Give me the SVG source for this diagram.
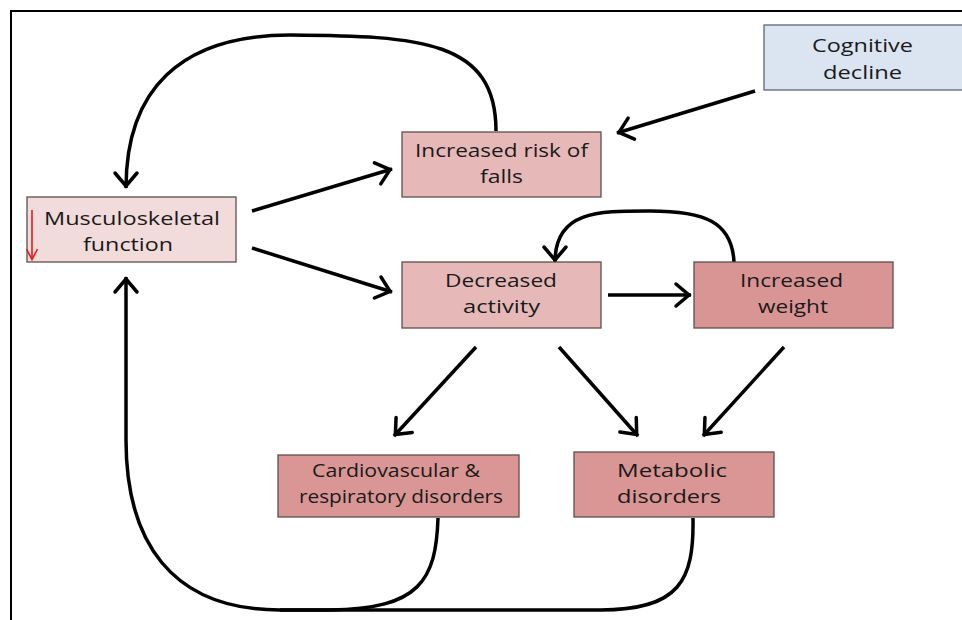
<svg xmlns="http://www.w3.org/2000/svg" width="962" height="620" viewBox="0 0 962 620">
<style>
.box{stroke:#5f4f4f;stroke-width:1.3}
.lbl{font-family:"Open Sans","Liberation Sans",sans-serif;font-size:19px;fill:#1a1a1a}
.con{fill:none;stroke:#000;stroke-width:3.5;marker-end:url(#ah)}
.plain{fill:none;stroke:#000;stroke-width:3.5}
</style>
<defs>
<marker id="ah" viewBox="-20 -15 24 30" refX="0" refY="0" markerWidth="24" markerHeight="30" markerUnits="userSpaceOnUse" orient="auto" overflow="visible">
<path d="M-15,-11 L-2,0 L-15,11" fill="none" stroke="#000" stroke-width="3.5" stroke-linecap="round"/>
</marker>
</defs>
<rect width="962" height="620" fill="#fff"/>
<path d="M11,620 V11 H962" fill="none" stroke="#000" stroke-width="2"/>

<g id="connectors">
<path class="con" d="M496,131 C496,40 420,36 290,35 C180,35 126,90 126,188"/>
<path class="con" d="M755,91 L617,133"/>
<path class="con" d="M252,211 L392,169"/>
<path class="con" d="M252,248 L392,292"/>
<path class="con" d="M608,295 L691,295"/>
<path class="con" d="M734,262 C732,222 705,211 650,211 C600,211 555,210 555,262"/>
<path class="con" d="M476,347 L394,436"/>
<path class="con" d="M559,347 L638,436"/>
<path class="con" d="M784,347 L703,436"/>
<path class="plain" d="M438,518 C436,580 420,609 330,610 L280,610"/>
<path class="con" d="M693,518 C694,580 680,610 600,610 L280,610 C170,610 126,540 126,440 L126,277"/>
</g>

<g id="musculoskeletal">
<rect class="box" x="27" y="197" width="209" height="65" fill="#f2dcdb"/>
<line x1="32" y1="210" x2="32" y2="258" stroke="#e31b1b" stroke-width="1.6"/>
<polyline points="26.5,249 32,259.5 37.5,249" fill="none" stroke="#e31b1b" stroke-width="1.6"/>
<text class="lbl" x="44" y="225" textLength="176" lengthAdjust="spacingAndGlyphs">Musculoskeletal</text>
<text class="lbl" x="83" y="251" textLength="90" lengthAdjust="spacingAndGlyphs">function</text>
</g>

<g id="falls">
<rect class="box" x="402" y="132" width="199" height="65" fill="#e6b9b8"/>
<text class="lbl" x="415" y="157" textLength="173" lengthAdjust="spacingAndGlyphs">Increased risk of</text>
<text class="lbl" x="480" y="183" textLength="43" lengthAdjust="spacingAndGlyphs">falls</text>
</g>

<g id="cognitive">
<rect x="764" y="25" width="210" height="65" fill="#dbe5f1" stroke="#5f6670" stroke-width="1.3"/>
<text class="lbl" x="812" y="52" textLength="101" lengthAdjust="spacingAndGlyphs">Cognitive</text>
<text class="lbl" x="823" y="79" textLength="79" lengthAdjust="spacingAndGlyphs">decline</text>
</g>

<g id="decreased">
<rect class="box" x="402" y="262" width="199" height="66" fill="#e6b9b8"/>
<text class="lbl" x="445" y="287" textLength="112" lengthAdjust="spacingAndGlyphs">Decreased</text>
<text class="lbl" x="463" y="313" textLength="77" lengthAdjust="spacingAndGlyphs">activity</text>
</g>

<g id="weight">
<rect class="box" x="694" y="262" width="199" height="66" fill="#d99594"/>
<text class="lbl" x="740" y="287" textLength="103" lengthAdjust="spacingAndGlyphs">Increased</text>
<text class="lbl" x="758" y="313" textLength="70" lengthAdjust="spacingAndGlyphs">weight</text>
</g>

<g id="cardio">
<rect class="box" x="278" y="455" width="241" height="62" fill="#d99694"/>
<text class="lbl" x="312" y="477" textLength="168" lengthAdjust="spacingAndGlyphs">Cardiovascular &amp;</text>
<text class="lbl" x="299" y="503" textLength="204" lengthAdjust="spacingAndGlyphs">respiratory disorders</text>
</g>

<g id="metabolic">
<rect class="box" x="574" y="452" width="200" height="65" fill="#d99694"/>
<text class="lbl" x="617" y="477" textLength="110" lengthAdjust="spacingAndGlyphs">Metabolic</text>
<text class="lbl" x="617" y="503" textLength="104" lengthAdjust="spacingAndGlyphs">disorders</text>
</g>
</svg>
